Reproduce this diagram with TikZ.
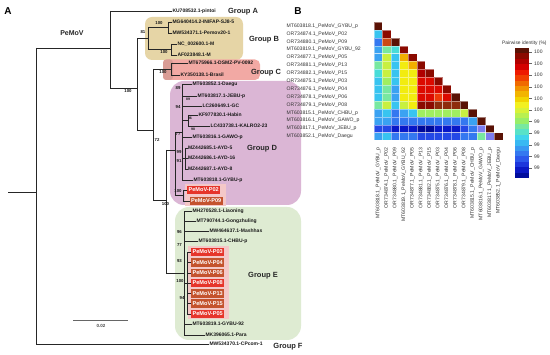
\documentclass[tikz,border=0pt]{standalone}
\usepackage{fontspec}
\setmainfont{Liberation Sans}
\definecolor{grpB}{HTML}{E6D5A6}
\definecolor{grpC}{HTML}{F2A9A4}
\definecolor{grpCd}{HTML}{D99C95}
\definecolor{grpD}{HTML}{DBB6D5}
\definecolor{grpE}{HTML}{DEEBD2}
\definecolor{halo}{HTML}{F4C8C8}
\definecolor{pred}{HTML}{E6352B}
\definecolor{pbrn}{HTML}{C4532E}
\definecolor{L0}{HTML}{5A1205}
\definecolor{L1}{HTML}{8B0A00}
\definecolor{LB}{HTML}{8E2C0C}
\definecolor{L2}{HTML}{B00000}
\definecolor{L3}{HTML}{DC0A00}
\definecolor{L4}{HTML}{EE3A08}
\definecolor{L5}{HTML}{CC4A16}
\definecolor{L7}{HTML}{F2B000}
\definecolor{L8}{HTML}{F2EC10}
\definecolor{L9}{HTML}{C8F040}
\definecolor{L10}{HTML}{A0EE60}
\definecolor{L11}{HTML}{78E8A0}
\definecolor{L12}{HTML}{48DCD8}
\definecolor{L13}{HTML}{38C4F0}
\definecolor{L14}{HTML}{3AA2F2}
\definecolor{L15}{HTML}{3478F0}
\definecolor{L16}{HTML}{2448E6}
\definecolor{L17}{HTML}{0818C8}
\definecolor{L18}{HTML}{000A9A}
\definecolor{LV}{HTML}{7C7CF0}
\newcommand\hmcell[3]{\filldraw[fill=#3,draw=white,draw opacity=0.45,line width=0.3pt] ({373.7+(#2-1)*8.6},{22+(#1-1)*7.9}) rectangle ++(8.6,7.9);}
\newcommand\cbdef{\definecolor{cbcol}{HTML}}
\begin{document}
\begin{tikzpicture}[x=1pt,y=-1pt,
  tree/.style={line width=0.6pt,black!85},
  leaf/.style={anchor=west,inner sep=0.3pt,font=\fontsize{5}{6}\selectfont\bfseries,text=black!90},
  pbox/.style={anchor=west,inner xsep=1.4pt,inner ysep=0.6pt,minimum height=8.6pt,font=\fontsize{5.6}{6}\selectfont\bfseries,text=white},
  bs/.style={inner sep=0pt,font=\fontsize{4.3}{5}\selectfont\bfseries,text=black!90},
  grp/.style={inner sep=0pt,font=\fontsize{7.5}{8}\selectfont\bfseries,text=black!85},
  rlab/.style={anchor=west,inner sep=0pt,font=\fontsize{5.1}{6}\selectfont,text=black!80},
  clab/.style={anchor=east,rotate=90,inner sep=0pt,font=\fontsize{5.1}{6}\selectfont,text=black!80},
  cbl/.style={anchor=west,inner sep=0pt,font=\fontsize{5}{6}\selectfont,text=black!80}]
\useasboundingbox (0,0) rectangle (550,355);
\fill[white] (0,0) rectangle (550,355);

% ---------- group boxes ----------
\fill[grpB,rounded corners=7pt] (145,17) rectangle (243,60);
\fill[grpC,rounded corners=5pt] (163,59.5) rectangle (260,80);
\fill[grpCd,rounded corners=3pt] (163,59.5) rectangle (173,80);
\fill[grpD,rounded corners=14pt] (170,81) rectangle (301,205);
\fill[grpE,rounded corners=14pt] (175,207) rectangle (301,340);
\fill[halo] (185,184) rectangle (226,206);
\fill[halo] (188,246.5) rectangle (229,319);

% ---------- panel letters ----------
\node[font=\fontsize{10}{12}\selectfont\bfseries] (pA) at (8,11) {A};
\node[font=\fontsize{10}{12}\selectfont\bfseries] (pB) at (298,11) {B};
\node[font=\fontsize{7}{8}\selectfont\bfseries,text=black!85] (pemov) at (72,33) {PeMoV};

% ---------- tree skeleton ----------
\draw[tree] (8,192) -- (36,192);
\draw[tree] (36,48) -- (36,344);
\draw[tree] (36,48) -- (110,48);
\draw[tree] (110,11) -- (110,88);
\draw[tree] (110,88) -- (137,88);
\draw[tree] (137,38.5) -- (137,130);
\draw[tree] (137,38.5) -- (148,38.5);
\draw[tree] (148,27.5) -- (148,49.5);
\draw[tree] (148,27.5) -- (168,27.5);
\draw[tree] (168,22) -- (168,33);
\draw[tree] (148,49.5) -- (171,49.5);
\draw[tree] (171,44) -- (171,55);
\draw[tree] (137,130) -- (153,130);
\draw[tree] (153,69) -- (153,200);
\draw[tree] (153,69) -- (171,69);
\draw[tree] (171,63) -- (171,75);
\draw[tree] (153,200) -- (166,200);
\draw[tree] (166,150) -- (166,273);
\draw[tree] (166,150) -- (175,150);
\draw[tree] (175,132) -- (175,195.5);
\draw[tree] (175,132) -- (182,132);
\draw[tree] (182,84) -- (182,180);
\draw[tree] (175,195.5) -- (183,195.5);
\draw[tree] (183,190) -- (183,201);
\draw[tree] (182,120.5) -- (188,120.5);
\draw[tree] (188,115) -- (188,126);
\draw[tree] (182,158) -- (185,158);
\draw[tree] (185,148) -- (185,169);
\draw[tree] (166,273) -- (184,273);
\draw[tree] (184,211) -- (184,335);
\draw[tree] (184,283) -- (187,283);
\draw[tree] (187,252) -- (187,314);

% ---------- leaves ----------
\node[leaf] (lA) at (172,11) {KU708532.1-pintoi};
\node[leaf] (lB1) at (172,22) {MG640414.2-INIFAP-SJ8-5};
\node[leaf] (lB2) at (172,33) {MW534371.1-Pemov20-1};
\node[leaf] (lB3) at (177,44) {NC\_002600.1-M};
\node[leaf] (lB4) at (177,55) {AF023848.1-M};
\node[leaf] (lC1) at (188,63) {MT675966.1-DSMZ-PV-0092};
\node[leaf] (lC2) at (180,75) {KY350138.1-Brasil};
\node[leaf] (lD1) at (192,84) {MT603852.1-Daegu};
\node[leaf] (lD2) at (197,96) {MT603817.1-JEBU-p};
\node[leaf] (lD3) at (202,106) {LC260649.1-GC};
\node[leaf] (lD4) at (198,115) {KF977830.1-Habin};
\node[leaf] (lD5) at (210,126) {LC433738.1-KALRO2-23};
\node[leaf] (lD6) at (192,137) {MT603816.1-GAWO-p};
\node[leaf] (lD7) at (187.5,148) {MZ442685.1-AYD-5};
\node[leaf] (lD8) at (187.5,158) {MZ442686.1-AYD-16};
\node[leaf] (lD9) at (187.5,169) {MZ442687.1-AYD-8};
\node[leaf] (lD10) at (193,180) {MT603818.1-GYBU-p};
\node[pbox,fill=pred] (lD11) at (187,190) {PeMoV-P02};
\node[pbox,fill=pbrn] (lD12) at (189.5,201) {PeMoV-P09};
\node[leaf] (lE1) at (192,211) {MH270528.1-Liaoning};
\node[leaf] (lE2) at (196,221) {MT790744.1-Gongzhuling};
\node[leaf] (lE3) at (209,231) {MW464637.1-Mashhas};
\node[leaf] (lE4) at (198,241) {MT603815.1-CHBU-p};
\node[pbox,fill=pred] (lE5) at (191,252) {PeMoV-P03};
\node[pbox,fill=pbrn] (lE6) at (191,262.5) {PeMoV-P04};
\node[pbox,fill=pbrn] (lE7) at (191,273) {PeMoV-P06};
\node[pbox,fill=pred] (lE8) at (191,283) {PeMoV-P08};
\node[pbox,fill=pbrn] (lE9) at (191,293.5) {PeMoV-P13};
\node[pbox,fill=pbrn] (lE10) at (191,303.5) {PeMoV-P15};
\node[pbox,fill=pred] (lE11) at (191,314) {PeMoV-P05};
\node[leaf] (lE12) at (192,324) {MT603819.1-GYBU-92};
\node[leaf] (lE13) at (205,335) {MK396065.1-Para};
\node[leaf] (lF) at (209,344) {MW534370.1-CPcom-1};

% leaf branches
\draw[tree] (110,11) -- (lA.west);
\draw[tree] (168,22) -- (lB1.west);
\draw[tree] (168,33) -- (lB2.west);
\draw[tree] (171,44) -- (lB3.west);
\draw[tree] (171,55) -- (lB4.west);
\draw[tree] (171,63) -- (lC1.west);
\draw[tree] (171,75) -- (lC2.west);
\draw[tree] (182,84) -- (lD1.west);
\draw[tree] (182,96) -- (lD2.west);
\draw[tree] (182,106) -- (lD3.west);
\draw[tree] (188,115) -- (lD4.west);
\draw[tree] (188,126) -- (lD5.west);
\draw[tree] (182,137) -- (lD6.west);
\draw[tree] (185,148) -- (lD7.west);
\draw[tree] (185,158) -- (lD8.west);
\draw[tree] (185,169) -- (lD9.west);
\draw[tree] (182,180) -- (lD10.west);
\draw[tree] (183,190) -- (lD11.west);
\draw[tree] (183,201) -- (lD12.west);
\draw[tree] (184,211) -- (lE1.west);
\draw[tree] (184,221) -- (lE2.west);
\draw[tree] (184,231) -- (lE3.west);
\draw[tree] (184,241) -- (lE4.west);
\foreach \n/\yy in {5/252,6/262.5,7/273,8/283,9/293.5,10/303.5,11/314} {\draw[tree] (187,\yy) -- (lE\n.west);}
\draw[tree] (184,324) -- (lE12.west);
\draw[tree] (184,335) -- (lE13.west);
\draw[tree] (36,344) -- (lF.west);

% bootstrap values
\node[bs] (b1) at (128,91) {100};
\node[bs] (b2) at (143,32) {81};
\node[bs] (b3) at (159,23.5) {100};
\node[bs] (b4) at (164,52.5) {100};
\node[bs] (b5) at (163,72) {100};
\node[bs] (b6) at (157,140) {72};
\node[bs] (b7) at (178,88) {89};
\node[bs,font=\fontsize{3.5}{4}\selectfont\bfseries] (b8) at (188,99.5) {89};
\node[bs] (b9) at (178,107) {94};
\node[bs,font=\fontsize{3.5}{4}\selectfont\bfseries] (b10) at (190,118) {96};
\node[bs,font=\fontsize{3.5}{4}\selectfont\bfseries] (b11) at (193,129.5) {98};
\node[bs] (b12) at (178,134) {77};
\node[bs] (b13) at (179,152) {99};
\node[bs] (b14) at (179,161) {91};
\node[bs] (b15) at (178,191) {100};
\node[bs] (b16) at (165.5,204) {100};
\node[bs] (b17) at (179.5,232) {96};
\node[bs] (b18) at (179.5,245) {77};
\node[bs] (b19) at (179.5,261) {93};
\node[bs] (b20) at (180,281) {100};
\node[bs] (b21) at (182,298) {94};

% group labels
\node[grp] (gA) at (243,12) {Group A};
\node[grp] (gB) at (264,40) {Group B};
\node[grp] (gC) at (266,73) {Group C};
\node[grp] (gD) at (262,149) {Group D};
\node[grp] (gE) at (263,276) {Group E};
\node[grp] (gF) at (288,347) {Group F};

% scale bar
\draw[black!60,line width=0.5pt] (73,320) -- (128,320);
\node[bs,font=\fontsize{4.5}{5}\selectfont\bfseries,text=black!70] (sc) at (101,326) {0.02};

% ---------- heatmap ----------
\foreach \cc [count=\c] in {L0} {\hmcell{1}{\c}{\cc}}
\foreach \cc [count=\c] in {L13,L1} {\hmcell{2}{\c}{\cc}}
\foreach \cc [count=\c] in {L15,L5,L0} {\hmcell{3}{\c}{\cc}}
\foreach \cc [count=\c] in {L14,L11,L12,L1} {\hmcell{4}{\c}{\cc}}
\foreach \cc [count=\c] in {L14,L9,L13,L7,L1} {\hmcell{5}{\c}{\cc}}
\foreach \cc [count=\c] in {L11,L9,L13,L8,L7,L1} {\hmcell{6}{\c}{\cc}}
\foreach \cc [count=\c] in {L12,L9,L13,L8,L8,L2,L1} {\hmcell{7}{\c}{\cc}}
\foreach \cc [count=\c] in {L13,L10,L13,L8,L8,L3,L3,L1} {\hmcell{8}{\c}{\cc}}
\foreach \cc [count=\c] in {L13,L11,L14,L8,L8,L3,L3,L3,L1} {\hmcell{9}{\c}{\cc}}
\foreach \cc [count=\c] in {L13,L11,L14,L8,L8,L3,L3,L4,L3,L0} {\hmcell{10}{\c}{\cc}}
\foreach \cc [count=\c] in {L11,L9,L13,L9,L8,L1,L1,LB,LB,LB,L0} {\hmcell{11}{\c}{\cc}}
\foreach \cc [count=\c] in {L14,L13,L15,L14,L13,L10,L10,L10,L10,L10,L9,L0} {\hmcell{12}{\c}{\cc}}
\foreach \cc [count=\c] in {L14,L14,L15,L15,L15,L15,L15,L15,L15,L15,L15,L14,L0} {\hmcell{13}{\c}{\cc}}
\foreach \cc [count=\c] in {L16,L16,L17,L17,L17,L18,L18,L17,L17,L17,L16,L15,LV,L0} {\hmcell{14}{\c}{\cc}}
\foreach \cc [count=\c] in {L14,L13,L15,L15,L15,L16,L16,L16,L16,L16,L15,L15,L11,LV,L0} {\hmcell{15}{\c}{\cc}}

\foreach \t [count=\i] in {MT603818.1\_PeMoV\_GYBU\_p,OR734874.1\_PeMoV\_P02,OR734880.1\_PeMoV\_P09,MT603819.1\_PeMoV\_GYBU\_92,OR734877.1\_PeMoV\_P05,OR734881.1\_PeMoV\_P13,OR734882.1\_PeMoV\_P15,OR734875.1\_PeMoV\_P03,OR734876.1\_PeMoV\_P04,OR734878.1\_PeMoV\_P06,OR734879.1\_PeMoV\_P08,MT603815.1\_PeMoV\_CHBU\_p,MT603816.1\_PeMoV\_GAWO\_p,MT603817.1\_PeMoV\_JEBU\_p,MT603852.1\_PeMoV\_Daegu} {
  \node[rlab] (rl\i) at (286.5,{22+(\i-0.5)*7.9}) {\t};
  \node[clab] (cl\i) at ({373.7+(\i-0.5)*8.6},147.5) {\t};
}

% ---------- colour bar ----------
\foreach \hx [count=\k] in {5A1205,8B0A00,B00000,D40000,EE1A00,F04000,F06A00,F29200,F2B400,F2D400,F2F020,D8F238,B8F050,98EE68,78E8A0,58E2C8,40D4EC,38B8F2,3898F2,3478F0,2C58EC,1C36DC,0A18C4,000C9C} {
  \expandafter\cbdef\expandafter{\hx}
  \fill[cbcol] (515,{48+(\k-1)*5.42}) rectangle ++(14,5.45);
}
\node[cbl,font=\fontsize{4.9}{6}\selectfont] (cbt) at (502,43) {Pairwise identity (\%)};
\foreach \v [count=\k] in {100,100,100,100,100,100,99,99,99,99,99} {
  \draw[black!60,line width=0.3pt] (529,{52+(\k-1)*11.6}) -- (531.5,{52+(\k-1)*11.6});
  \node[cbl] (cv\k) at (534,{52+(\k-1)*11.6}) {\v};
}
\end{tikzpicture}
\end{document}
